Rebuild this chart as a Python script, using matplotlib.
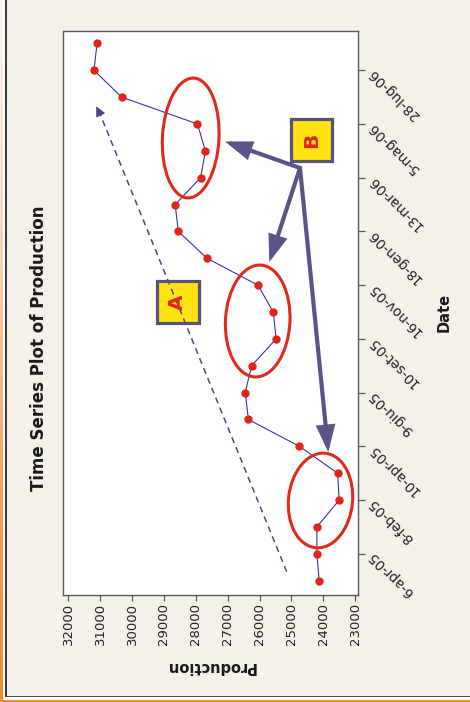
import numpy as np
import matplotlib
matplotlib.use("Agg")
import matplotlib.pyplot as plt
from matplotlib.patches import Ellipse, Rectangle, FancyArrowPatch
from matplotlib.lines import Line2D
from matplotlib.transforms import Affine2D
from matplotlib.colors import LinearSegmentedColormap

# Production series (one value per period, oldest first)
production = [24130, 24200, 24200, 23500, 23550, 24750, 26350, 26450, 26250,
              25480, 25570, 26050, 27650, 28550, 28650, 27850, 27700, 27950,
              30330, 31200, 31100]
# Date labels shown on every second period, starting at the second one
date_labels = ["6-apr-05", "8-feb-05", "10-apr-05", "9-giu-05", "10-set-05",
               "16-nov-05", "18-gen-06", "13-mar-06", "5-mag-06", "28-lug-06"]
production_ticks = [32000, 31000, 30000, 29000, 28000, 27000, 26000, 25000,
                    24000, 23000]

W, H, DPI = 470, 702, 100
BG = "#f4f0ea"
fig = plt.figure(figsize=(W / DPI, H / DPI), dpi=DPI, facecolor=BG)

# pixel coordinates with origin at the top-left corner
px = Affine2D().scale(1, -1).translate(0, H).scale(1 / DPI) + fig.dpi_scale_trans

# page decoration: orange gradient strip, dark frame lines
strip = fig.add_axes([0, 0, 3.0 / W, 1])
grad = np.linspace(0, 1, 256).reshape(-1, 1)
cmap = LinearSegmentedColormap.from_list(
    "edge", ["#fdf4ec", "#fce2cc", "#f9bf8c", "#f59c50", "#f28a2c"])
strip.imshow(grad, aspect="auto", cmap=cmap, extent=[0, 1, 1, 0])
strip.set_axis_off()
fig.add_artist(Rectangle((3.0, 0), 2.2, H, transform=px, color="#ffffff", lw=0))
fig.add_artist(Rectangle((5.0, 0), 1.6, 697, transform=px, color="#3c3c3c", lw=0))
fig.add_artist(Rectangle((5.0, 695.6), W, 1.6, transform=px, color="#4a4a4a", lw=0))
fig.add_artist(Rectangle((5.0, 697.2), W, 3.0, transform=px, color="#ffffff", lw=0))
fig.add_artist(Rectangle((0, 700.0), W, 2.2, transform=px, color="#f28a2c", lw=0))

# main plot: production along the horizontal (reversed), time running upward
ax = fig.add_axes([62.7 / W, 1 - 594.6 / H, (358.3 - 62.7) / W, (594.6 - 31.3) / H])
ax.set_facecolor("white")
periods = np.arange(len(production))
ax.plot(production, periods, color="#3535a8", lw=0.8, marker="o", ms=5,
        mfc="#e2231a", mec="#e2231a", zorder=3)
ax.set_xlim(32180, 22900)
ax.set_ylim(-0.52, 20.45)

ax.set_xticks(production_ticks)
ax.set_xticklabels([str(v) for v in production_ticks], rotation=90,
                   fontsize=9.5, color="#222222")
ax.yaxis.tick_right()
ax.set_yticks(periods[1::2])
ax.set_yticklabels(date_labels, rotation=135, rotation_mode="anchor",
                   ha="right", va="center", fontsize=9.8, color="#222222")
ax.tick_params(axis="x", direction="out", length=4.2, width=0.9, color="#555555", pad=2)
ax.tick_params(axis="y", direction="out", length=4.8, width=0.9, color="#555555", pad=4)
for s in ax.spines.values():
    s.set_color("#5a5a5a")
    s.set_linewidth(1.0)

# titles and axis names
fig.text(39, 348, "Time Series Plot of Production", transform=px, rotation=90,
         ha="center", va="center", fontsize=12, fontweight="bold", color="#1a1a1a")
fig.text(211, 667, "Production", transform=px, rotation=180,
         ha="center", va="center", fontsize=10.5, fontweight="bold", color="#1a1a1a")
fig.text(444, 312, "Date", transform=px, rotation=90,
         ha="center", va="center", fontsize=10.5, fontweight="bold", color="#1a1a1a")

# dashed trend arrow (A)
fig.add_artist(Line2D([286.7, 98.0], [571.7, 109.0], transform=px, color="#4a4a82",
                      lw=1.1, ls=(0, (4, 3))))
fig.add_artist(FancyArrowPatch((99.8, 113.5), (95.0, 103.9), transform=px,
                               arrowstyle="-|>,head_length=6,head_width=3",
                               color="#4a4a82", lw=0.8, mutation_scale=1))

# red ellipses around the seasonal dips
for cx, cy, w, h, ang in [(320.5, 500.5, 64, 95, 6), (257.7, 321, 64.5, 112, 3),
                          (190.7, 138, 56.5, 120, 3)]:
    fig.add_artist(Ellipse((cx, cy), w, h, angle=ang, transform=px, fill=False,
                           ec="#e02a1d", lw=2.2))

# arrows from box B
arrow_col = "#5b5489"
vx, vy = 300, 168
for tx, ty in [(225, 141.5), (269.3, 262), (328.3, 452.2)]:
    fig.add_artist(FancyArrowPatch((vx, vy), (tx, ty), transform=px,
                                   arrowstyle="-|>,head_length=14,head_width=5",
                                   mutation_scale=1, color=arrow_col, lw=3.0,
                                   shrinkA=0, shrinkB=0, joinstyle="miter"))

# label boxes
for (x0, y0, x1, y1), letter in [((156.5, 281, 198.5, 322.5), "A"),
                                 ((290.7, 119.3, 332, 161.3), "B")]:
    fig.add_artist(Rectangle((x0, y0), x1 - x0, y1 - y0, transform=px,
                             fc="#ffe313", ec="#58527a", lw=2.3))
    fig.text((x0 + x1) / 2, (y0 + y1) / 2, letter, transform=px, rotation=90,
             ha="center", va="center", fontsize=14.5, fontweight="bold", color="#e3261c")

fig.savefig("out.png", dpi=DPI, facecolor=BG)
